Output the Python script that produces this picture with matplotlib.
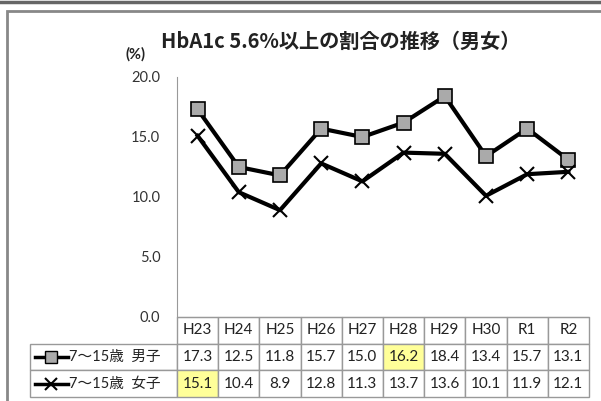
import matplotlib
matplotlib.use("Agg")
import matplotlib.pyplot as plt
import matplotlib.patches as patches
from matplotlib.lines import Line2D
from matplotlib.transforms import blended_transform_factory

plt.rcParams['font.family'] = ['Lato', 'Noto Sans CJK JP', 'DejaVu Sans']

# data
years = ["H23", "H24", "H25", "H26", "H27", "H28", "H29", "H30", "R1", "R2"]
boys = [17.3, 12.5, 11.8, 15.7, 15.0, 16.2, 18.4, 13.4, 15.7, 13.1]
girls = [15.1, 10.4, 8.9, 12.8, 11.3, 13.7, 13.6, 10.1, 11.9, 12.1]
series_labels = ["7～15歳  男子", "7～15歳  女子"]
highlight = {(0, 5), (1, 0)}  # (row, col) cells with yellow fill
yticks = [0, 5, 10, 15, 20]

W, H = 601, 401
fig = plt.figure(figsize=(W / 100, H / 100), dpi=100)

# outer frame lines
fig.add_artist(Line2D([0, 1], [1 - 2 / H, 1 - 2 / H], color="#666666", lw=2.5))
fig.add_artist(patches.Rectangle((7 / W, -0.1), 1.2, 1.1 - 11 / H, fill=False,
                                 edgecolor="#888888", lw=2, transform=fig.transFigure))

# plot area in pixels
left, right, top, bottom = 177, 589, 77, 317
ax = fig.add_axes([left / W, (H - bottom) / H, (right - left) / W, (bottom - top) / H])
ax.set_xlim(-0.5, len(years) - 0.5)
ax.set_ylim(0, 20)
ax.set_yticks(yticks)
ax.set_yticklabels([f"{v:.1f}" for v in yticks], fontsize=10.5, color="#333333")
ax.tick_params(axis="y", length=0, pad=12)
ax.set_xticks([])
for s in ["top", "right"]:
    ax.spines[s].set_visible(False)
ax.spines["left"].set_color("#999999")
ax.spines["bottom"].set_color("#999999")
ax.patch.set_alpha(0)

x = range(len(years))
ax.plot(x, boys, color="black", lw=3, marker="s", markersize=10.5,
        markerfacecolor="#aaaaaa", markeredgecolor="black", markeredgewidth=1.2, clip_on=False, zorder=3)
ax.plot(x, girls, color="black", lw=3, marker="x", markersize=10,
        markeredgewidth=1.5, clip_on=False, zorder=3)

fig.text(341 / W, 1 - 41 / H, "HbA1c 5.6%以上の割合の推移（男女）", ha="center", va="center",
         fontsize=14.5, fontweight="bold", family=["Noto Sans CJK JP"], color="#222222")
fig.text(135 / W, 1 - 54 / H, "(%)", ha="center", va="center", fontsize=10.5,
         fontweight="bold", color="#222222")

# data table below the axis
tr = blended_transform_factory(ax.transData, ax.transAxes)
ph = bottom - top
row_h = 26.7 / ph
label_left = -0.5 - (left - 30) / ((right - left) / len(years))
grid_c = "#999999"
rows = [boys, girls]

for j, yr in enumerate(years):
    y0 = -row_h
    ax.add_patch(patches.Rectangle((j - 0.5, y0), 1, row_h, transform=tr, clip_on=False,
                                   facecolor="white", edgecolor=grid_c, lw=1))
    ax.text(j, y0 + row_h / 2, yr, transform=tr, ha="center", va="center", fontsize=11, color="#222222")

for i, vals in enumerate(rows):
    y0 = -row_h * (i + 2)
    ax.add_patch(patches.Rectangle((label_left, y0), -0.5 - label_left, row_h, transform=tr,
                                   clip_on=False, facecolor="white", edgecolor=grid_c, lw=1))
    for j, v in enumerate(vals):
        fc = "#ffff99" if (i, j) in highlight else "white"
        ax.add_patch(patches.Rectangle((j - 0.5, y0), 1, row_h, transform=tr, clip_on=False,
                                       facecolor=fc, edgecolor=grid_c, lw=1))
        ax.text(j, y0 + row_h / 2, f"{v:.1f}", transform=tr, ha="center", va="center",
                fontsize=11, color="#222222")
    # legend key
    kx0, kx1 = label_left + 0.12, label_left + 0.92
    yc = y0 + row_h / 2
    ax.add_line(Line2D([kx0, kx1], [yc, yc], transform=tr, color="black", lw=2.5, clip_on=False))
    if i == 0:
        ax.add_line(Line2D([(kx0 + kx1) / 2], [yc], transform=tr, marker="s", markersize=8,
                           markerfacecolor="#aaaaaa", markeredgecolor="black", clip_on=False))
    else:
        ax.add_line(Line2D([(kx0 + kx1) / 2], [yc], transform=tr, marker="x", markersize=8,
                           color="black", markeredgewidth=1.5, clip_on=False))
    ax.text(kx1 + 0.02, yc, series_labels[i], transform=tr, ha="left", va="center", fontsize=10.5,
            color="#222222")

fig.savefig("out.png", dpi=100)
